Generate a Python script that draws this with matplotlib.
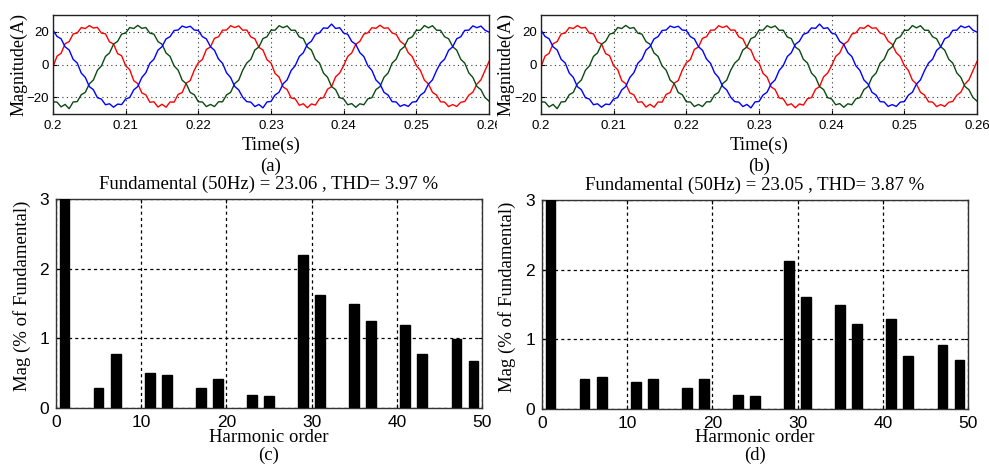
import numpy as np
import matplotlib
matplotlib.use('Agg')
import matplotlib.pyplot as plt
from matplotlib.transforms import Bbox, TransformedBbox

W, H = 989, 466

# ---- phase currents (A), sampled every 1/36 of a 50 Hz cycle, t = 0.2 .. 0.26 s
t_start, t_end = 0.2, 0.26
i_red = [-1.5, 5.1, 6.8, 12.6, 13.9, 18.5, 19.1, 22.4, 21.8, 23.6, 22.1, 22.5, 19.0, 18.6, 13.7, 12.4, 6.6, 5.3,
         -0.8, -3.1, -9.8, -11.6, -17.2, -18.4, -22.9, -22.6, -25.8, -24.1, -25.9, -22.7, -22.8, -18.1, -17.0, -11.3, -9.7, -3.4,
         1.1, 3.0, 9.2, 10.6, 15.9, 16.8, 20.8, 20.9, 23.5, 22.4, 23.4, 20.8, 20.9, 16.7, 15.6, 10.4, 8.8, 2.9,
         0.9, -5.4, -7.6, -13.6, -15.2, -20.3, -20.8, -24.7, -23.8, -26.2, -23.9, -24.6, -20.7, -20.1, -15.0, -13.4, -7.5, -5.2,
         -0.6, 4.9, 7.0, 12.3, 14.0, 18.4, 19.2, 22.3, 21.9, 23.8, 22.0, 22.2, 19.1, 18.3, 14.1, 12.2, 7.1, 4.8,
         -0.7, -3.6, -9.5, -11.8, -16.9, -18.5, -22.6, -22.8, -25.5, -24.3, -25.4, -22.9, -22.4, -18.6, -16.8, -11.9, -9.3, -3.7,
         1.8]
i_blue = [20.8, 17.0, 15.6, 10.7, 8.8, 3.1, 0.9, -5.2, -7.8, -13.4, -15.3, -20.1, -21.0, -24.4, -23.8, -25.9, -24.0, -24.3,
          -20.9, -20.0, -15.4, -13.3, -7.9, -5.0, 0.8, 3.2, 8.7, 10.8, 15.5, 16.9, 20.6, 20.9, 23.3, 22.4, 23.2, 20.9,
          20.6, 16.9, 15.5, 10.8, 8.6, 3.3, 0.7, -5.1, -7.9, -13.3, -15.4, -19.9, -22.5, -22.8, -25.5, -24.2, -26.3, -22.7,
          -22.4, -18.5, -16.8, -11.7, -9.3, -3.6, -0.7, 4.8, 7.1, 12.2, 14.1, 18.3, 19.2, 22.2, 21.9, 24.5, 21.8, 22.3,
          19.1, 18.3, 14.0, 12.2, 7.2, 4.8, -0.8, -3.6, -9.4, -11.8, -16.9, -18.5, -22.5, -22.7, -25.4, -24.3, -25.4, -22.8,
          -22.5, -18.6, -16.8, -11.9, -9.3, -3.7, 0.9, 3.2, 8.6, 10.7, 15.6, 16.8, 20.7, 20.8, 23.4, 22.3, 23.3, 20.8,
          19.6]
i_green = [-22.6, -22.8, -25.7, -24.2, -26.8, -22.7, -22.5, -18.3, -16.9, -11.7, -9.4, -3.5, -0.8, 4.9, 7.0, 12.3, 14.0, 18.4,
           19.1, 22.4, 21.8, 23.7, 21.9, 22.4, 19.0, 18.4, 13.9, 12.3, 7.0, 4.9, -0.9, -3.4, -9.5, -11.6, -17.0, -18.3,
           -22.6, -22.7, -25.5, -24.2, -25.5, -22.6, -22.6, -18.4, -16.9, -11.6, -9.5, -3.4, 0.9, 3.1, 8.8, 10.6, 15.7, 16.8,
           20.8, 20.8, 23.5, 22.3, 23.4, 20.7, 20.8, 16.7, 15.7, 10.6, 8.8, 3.1, 0.9, -5.2, -7.7, -13.4, -15.2, -20.1,
           -20.9, -24.4, -23.7, -25.9, -23.8, -24.4, -20.8, -20.1, -15.2, -13.4, -7.7, -5.2, 0.8, 3.2, 8.7, 10.7, 15.6, 16.8,
           20.7, 20.8, 23.6, 22.2, 23.5, 20.8, 20.7, 16.8, 15.6, 10.8, 8.7, 3.2, 0.8, -5.1, -7.8, -13.3, -15.3, -20.0,
           -22.2]

time_ticks = [0.2, 0.21, 0.22, 0.23, 0.24, 0.25, 0.26]
time_ticklabels = ['0.2', '0.21', '0.22', '0.23', '0.24', '0.25', '0.26']
current_ticks = [-20, 0, 20]

# ---- harmonic spectra (% of fundamental)
harmonics = [1, 5, 7, 11, 13, 17, 19, 23, 25, 29, 31, 35, 37, 41, 43, 47, 49]
mag_c = [100, 0.28, 0.775, 0.50, 0.47, 0.29, 0.42, 0.18, 0.17, 2.20, 1.62, 1.49, 1.25, 1.19, 0.775, 0.985, 0.675]
mag_d = [100, 0.43, 0.455, 0.39, 0.425, 0.30, 0.425, 0.196, 0.18, 2.12, 1.61, 1.50, 1.22, 1.29, 0.756, 0.92, 0.71]
title_c = 'Fundamental (50Hz) = 23.06 , THD= 3.97 %'
title_d = 'Fundamental (50Hz) = 23.05 , THD= 3.87 %'

serif = 'Liberation Serif'
sans = 'Liberation Sans'


def px_axes(left, top, right, bottom):
    return fig.add_axes([left / W, 1 - bottom / H, (right - left) / W, (bottom - top) / H])


def ftext(x, y, s, **kw):
    fig.text(x / W, 1 - y / H, s, ha='center', va='center', family=serif, **kw)


fig = plt.figure(figsize=(W / 100, H / 100), dpi=100)
fig.patch.set_facecolor('white')

# ---------------- waveforms ----------------
for (l, r, tag, cx, ylx) in [(53, 489, '(a)', 271, 19), (541, 977, '(b)', 759, 506)]:
    ax = px_axes(l, 15, r, 114)
    t = np.linspace(t_start, t_end, len(i_red))
    ax.plot(t, i_red, color='#ff0000', lw=1.0)
    ax.plot(t, i_green, color='#0b4a12', lw=1.0)
    ax.plot(t, i_blue, color='#0000ff', lw=1.0)
    ax.set_xlim(t_start, t_end)
    ax.set_ylim(-30, 30)
    ax.set_xticks(time_ticks)
    ax.set_xticklabels(time_ticklabels)
    ax.set_yticks(current_ticks)
    ax.grid(True, color='#333333', linestyle=(0, (1, 3)), lw=0.8)
    ax.tick_params(direction='in', length=3, width=0.8, labelsize=9.5, pad=4, top=False, right=False)
    ax.tick_params(axis='y', pad=3)
    for lab in ax.get_xticklabels() + ax.get_yticklabels():
        lab.set_family(sans)
    for sp in ax.spines.values():
        sp.set_linewidth(1.0)
        sp.set_color('#222222')
    ftext(cx, 145, 'Time(s)', fontsize=13.5)
    ftext(cx, 166, tag, fontsize=13.5)
    ftext(ylx, 64, 'Magnitude(A)', fontsize=13, rotation=90)
    if tag == '(a)':
        clip = TransformedBbox(Bbox.from_extents(0, 0, 497 / W, 1), fig.transFigure)
        last = ax.xaxis.get_major_ticks()[-1].label1
        last.set_clip_box(clip)
        last.set_clip_on(True)

# ---------------- spectra ----------------
for (l, r, top, bot, mags, title, tag, ylx) in [(56, 482, 199, 408, mag_c, title_c, '(c)', 22),
                                               (542, 968, 200, 409, mag_d, title_d, '(d)', 507)]:
    ax = px_axes(l, top, r, bot)
    ax.bar(harmonics, mags, width=1.15, color='black', edgecolor='black', zorder=3)
    ax.set_xlim(0, 50)
    ax.set_ylim(0, 3)
    ax.set_xticks([0, 10, 20, 30, 40, 50])
    ax.set_yticks([0, 1, 2, 3])
    ax.grid(True, color='black', linestyle=(0, (2.5, 2.5)), lw=0.9, zorder=1)
    ax.set_axisbelow(True)
    ax.tick_params(direction='in', length=3, width=0.8, labelsize=12.5, pad=5, top=True, right=True)
    for lab in ax.get_xticklabels() + ax.get_yticklabels():
        lab.set_family(sans)
    for sp in ax.spines.values():
        sp.set_linewidth(1.0)
        sp.set_color('#333333')
    cx = (l + r) / 2
    ftext(cx, top - 15, title, fontsize=13.5)
    ftext(cx, 438, 'Harmonic order', fontsize=13.5)
    ftext(cx, 455, tag, fontsize=13.5)
    ftext(ylx, (top + bot) / 2 - 8, 'Mag (% of Fundamental)', fontsize=13.5, rotation=90)

fig.savefig('out.png', dpi=100, facecolor='white')
